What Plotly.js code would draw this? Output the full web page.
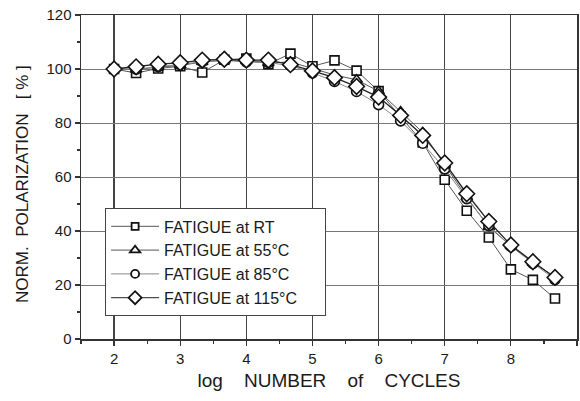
<!DOCTYPE html>
<html>
<head>
<meta charset="utf-8">
<script src="https://cdn.plot.ly/plotly-3.0.1.min.js"></script>
<style>html,body{margin:0;padding:0;background:#fff;}#chart{width:580px;height:401px;}</style>
</head>
<body>
<div id="chart"></div>
<script>
const logCycles = [2, 2.333, 2.667, 3, 3.333, 3.667, 4, 4.333, 4.667, 5, 5.333, 5.667, 6, 6.333, 6.667, 7, 7.333, 7.667, 8, 8.333, 8.667];
const fatigueRT   = [100, 98.5, 100.2, 101, 98.7, 103.4, 103.9, 101.8, 105.7, 101, 103.2, 99.4, 91.8, 82.5, 72.8, 59, 47.5, 37.6, 25.8, 21.9, 15];
const fatigue55C  = [100, 99.8, 100.7, 101.3, 102.6, 103.2, 103.0, 102.2, 102.6, 100.2, 97.8, 96, 91.8, 84.2, 76.5, 64.5, 52.5, 41.5, 34.5, 28.3, 23];
const fatigue85C  = [100, 99.9, 100.9, 101.6, 102.7, 103.2, 102.6, 102.4, 101.2, 98.6, 95.4, 91.7, 86.8, 80.8, 72.5, 63, 52, 42, 34.3, 28, 22];
const fatigue115C = [100, 100.8, 101.8, 102.3, 103.3, 103.6, 103.3, 103.3, 101.6, 99.3, 96.8, 93.5, 89.6, 82.8, 75.4, 65.2, 53.8, 43.5, 34.8, 28.6, 22.8];
const seriesNames = ['FATIGUE at RT', 'FATIGUE at 55°C', 'FATIGUE at 85°C', 'FATIGUE at 115°C'];
const xTicks = [2, 3, 4, 5, 6, 7, 8, 9];
const yTicks = [0, 20, 40, 60, 80, 100, 120];

const symbols = ['square', 'triangle-up', 'circle', 'diamond'];
const sizes = [9, 10, 10, 12];
const legendSizes = [7, 9, 8, 10];
const lineColors = ['#555', '#555', '#888', '#222'];
const lineWidths = [1, 1, 1, 1.3];
const seriesY = [fatigueRT, fatigue55C, fatigue85C, fatigue115C];
const pad = '&nbsp;&nbsp;&nbsp;&nbsp;&nbsp;';

const data = [];
// legend entries (first point only, small marker, hidden beneath the full series)
seriesY.forEach((y, i) => {
  data.push({
    x: logCycles.slice(0, 1), y: y.slice(0, 1), name: seriesNames[i] + pad, type: 'scatter', mode: 'lines+markers',
    showlegend: true, legendgroup: 'g' + i,
    line: {color: lineColors[i], width: 1},
    marker: {symbol: symbols[i], size: legendSizes[i], color: '#ffffff', line: {color: '#111', width: 1.8}}
  });
});
seriesY.forEach((y, i) => {
  data.push({
    x: logCycles, y: y, name: seriesNames[i], type: 'scatter', mode: 'lines+markers',
    showlegend: false, legendgroup: 'g' + i,
    line: {color: lineColors[i], width: lineWidths[i]},
    marker: {symbol: symbols[i], size: sizes[i], color: '#ffffff', line: {color: '#111', width: 1.6}}
  });
});

const fam = 'Liberation Sans, Arial, sans-serif';

const layout = {
  width: 580, height: 401,
  margin: {l: 81, r: 3, t: 15, b: 62},
  paper_bgcolor: '#fff', plot_bgcolor: '#fff',
  font: {family: fam, color: '#1a1a1a', size: 15},
  showlegend: true,
  legend: {
    x: 0.048, y: 0.404, xanchor: 'left', yanchor: 'top',
    bgcolor: '#fff', bordercolor: '#444', borderwidth: 1.3,
    font: {family: fam, size: 16, color: '#1a1a1a'},
    tracegroupgap: 0, itemwidth: 48
  },
  xaxis: {
    range: [1.5, 9], tickvals: xTicks, ticktext: xTicks.map(String),
    showline: true, mirror: true, linecolor: '#333', linewidth: 1.5,
    showgrid: true, gridcolor: '#444', gridwidth: 1.2,
    ticks: 'outside', ticklen: 5, tickcolor: '#333', tickwidth: 1.2,
    minor: {dtick: 0.5, tick0: 0, ticks: 'outside', ticklen: 3, tickcolor: '#333', showgrid: false},
    zeroline: false,
    tickfont: {size: 15},
    title: {text: 'log&nbsp;&nbsp;&nbsp;&nbsp;NUMBER&nbsp;&nbsp;&nbsp;&nbsp;of&nbsp;&nbsp;&nbsp;&nbsp;CYCLES', font: {size: 19}, standoff: 8}
  },
  yaxis: {
    range: [0, 120], tickvals: yTicks, ticktext: yTicks.map(String),
    showline: true, mirror: true, linecolor: '#333', linewidth: 1.5,
    showgrid: true, gridcolor: '#777', gridwidth: 1,
    ticks: 'outside', ticklen: 5, tickcolor: '#333', tickwidth: 1.2,
    minor: {dtick: 10, tick0: 0, ticks: 'outside', ticklen: 3, tickcolor: '#333', showgrid: false},
    zeroline: false,
    tickfont: {size: 15},
    title: {text: 'NORM.&nbsp;&nbsp;POLARIZATION&nbsp;&nbsp;&nbsp;[ % ]&nbsp;&nbsp;&nbsp;', font: {size: 17}, standoff: 13}
  }
};

Plotly.newPlot('chart', data, layout, {staticPlot: true, displayModeBar: false});
</script>
</body>
</html>
